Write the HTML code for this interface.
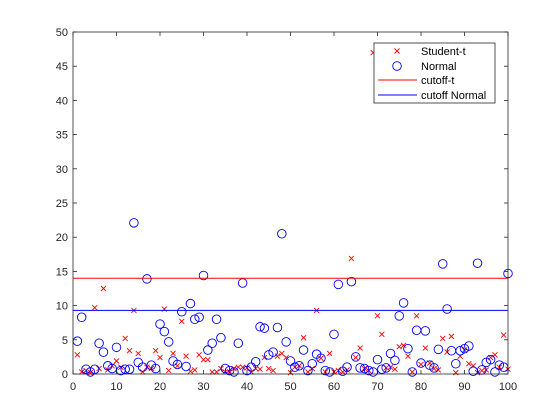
<!DOCTYPE html>
<html><head><meta charset="utf-8"><style>
body{margin:0;background:#fff;}
svg{display:block;font-family:"Liberation Sans",sans-serif;}
</style></head><body>
<svg id="chart" width="560" height="420"></svg>
<script>
const normalVals=[4.8,8.3,0.7,0.3,0.7,4.5,3.2,1.2,0.8,3.9,0.5,0.7,0.7,22.1,1.7,1.0,13.9,1.3,0.8,7.3,6.2,4.7,1.9,1.4,9.1,1.1,10.3,8.0,8.3,14.4,3.5,4.5,8.0,5.3,0.8,0.5,0.3,4.5,13.3,0.5,1.0,1.8,6.9,6.7,2.8,3.2,6.8,20.5,4.7,1.9,1.0,1.2,3.5,0.5,1.5,2.9,2.3,0.5,0.3,5.8,13.1,0.4,1.0,13.5,2.5,0.9,0.8,0.5,0.3,2.1,0.7,0.9,3.0,2.0,8.5,10.4,3.7,0.3,6.4,1.6,6.3,1.3,0.9,3.6,16.1,9.5,3.4,1.5,3.4,3.7,4.1,0.4,16.2,0.6,1.7,2.1,0.3,1.3,1.0,14.7];
const studentVals=[2.8,0.3,0.5,0.2,9.7,0.8,12.5,0.6,1.2,1.9,1.0,5.2,3.4,9.3,3.0,0.3,1.0,0.8,3.4,2.4,9.5,0.5,3.0,1.2,7.7,2.6,0.4,0.6,2.8,2.1,2.1,0.3,0.3,0.8,0.3,0.3,0.8,1.0,1.0,0.9,0.3,0.8,0.7,2.4,0.8,0.5,2.6,3.0,2.4,0.2,1.0,1.2,5.3,0.3,0.8,9.3,2.3,0.3,3.0,0.3,0.5,0.3,0.6,16.9,2.4,3.8,0.8,0.5,47.0,8.5,5.8,0.9,1.0,0.7,4.0,4.2,2.6,0.3,8.5,1.4,3.8,1.6,0.8,0.6,5.2,3.2,5.5,0.2,2.6,3.5,1.5,1.2,0.2,0.5,0.6,2.4,2.8,1.0,5.7,0.7];
const cutoffT=[14.0];
const cutoffNormal=[9.3];
const xTicks=[0,10,20,30,40,50,60,70,80,90,100];
const yTicks=[0,5,10,15,20,25,30,35,40,45,50];

const NS="http://www.w3.org/2000/svg";
const svg=document.getElementById('chart');
const L=73,R=508,T=32,B=374;
const xs=v=>L+(v-0)/100*(R-L);
const ys=v=>B-(v-0)/50*(B-T);
function mk(tag,attrs,parent){const e=document.createElementNS(NS,tag);for(const k in attrs)e.setAttribute(k,attrs[k]);(parent||svg).appendChild(e);return e;}

const box=mk('rect',{x:L,y:T,width:R-L,height:B-T,fill:'#fff',stroke:'none'});



const gS=mk('g',{});


studentVals.forEach((v,i)=>{const x=xs(i+1),y=ys(v),s=2.5;
 const p=mk('path',{d:`M${x-s},${y-s}L${x+s},${y+s}M${x-s},${y+s}L${x+s},${y-s}`,stroke:'#f00','stroke-width':0.9,fill:'none'},gS);
 
 });
const gN=mk('g',{});


normalVals.forEach((v,i)=>{
 const c=mk('circle',{cx:xs(i+1),cy:ys(v),r:4.3,stroke:'#00f','stroke-width':0.9,fill:'none'},gN);
 
 });
const l1=mk('line',{x1:L,x2:R,y1:ys(cutoffT[0]),y2:ys(cutoffT[0]),stroke:'#f00','stroke-width':1});


const l2=mk('line',{x1:L,x2:R,y1:ys(cutoffNormal[0]),y2:ys(cutoffNormal[0]),stroke:'#00f','stroke-width':1});



const fr=mk('rect',{x:L,y:T,width:R-L,height:B-T,fill:'none',stroke:'#262626','stroke-width':0.8});


xTicks.forEach(t=>{const x=xs(t);
 mk('line',{x1:x,x2:x,y1:B,y2:B-4,stroke:'#262626','stroke-width':0.8});
 mk('line',{x1:x,x2:x,y1:T,y2:T+4,stroke:'#262626','stroke-width':0.8});
 const tx=mk('text',{x:x,y:B+16,'text-anchor':'middle','font-size':11,fill:'#262626'});tx.textContent=t;
 
 });
yTicks.forEach(t=>{const y=ys(t);
 mk('line',{x1:L,x2:L+4,y1:y,y2:y,stroke:'#262626','stroke-width':0.8});
 mk('line',{x1:R,x2:R-4,y1:y,y2:y,stroke:'#262626','stroke-width':0.8});
 const tx=mk('text',{x:L-5,y:y+4,'text-anchor':'end','font-size':11,fill:'#262626'});tx.textContent=t;
 
 });

const lg=mk('g',{});


mk('rect',{x:374,y:43,width:121,height:60,fill:'#fff',stroke:'#262626','stroke-width':0.8},lg);
const ents=[['Student-t','x',51],['Normal','o',66],['cutoff-t','r',80],['cutoff Normal','b',95]];
ents.forEach(e=>{const y=e[2],cx=397;
 const g=mk('g',{},lg);
 
 
 if(e[1]=='x')mk('path',{d:`M${cx-2.5},${y-2.5}L${cx+2.5},${y+2.5}M${cx-2.5},${y+2.5}L${cx+2.5},${y-2.5}`,stroke:'#f00','stroke-width':0.9},g);
 else if(e[1]=='o')mk('circle',{cx:cx,cy:y,r:4.3,stroke:'#00f',fill:'none','stroke-width':0.9},g);
 else mk('line',{x1:378,x2:417,y1:y,y2:y,stroke:e[1]=='r'?'#f00':'#00f','stroke-width':1},g);
 const t=mk('text',{x:421,y:y+4,'font-size':11,fill:'#000'},g);t.textContent=e[0];});
</script>
</body></html>
